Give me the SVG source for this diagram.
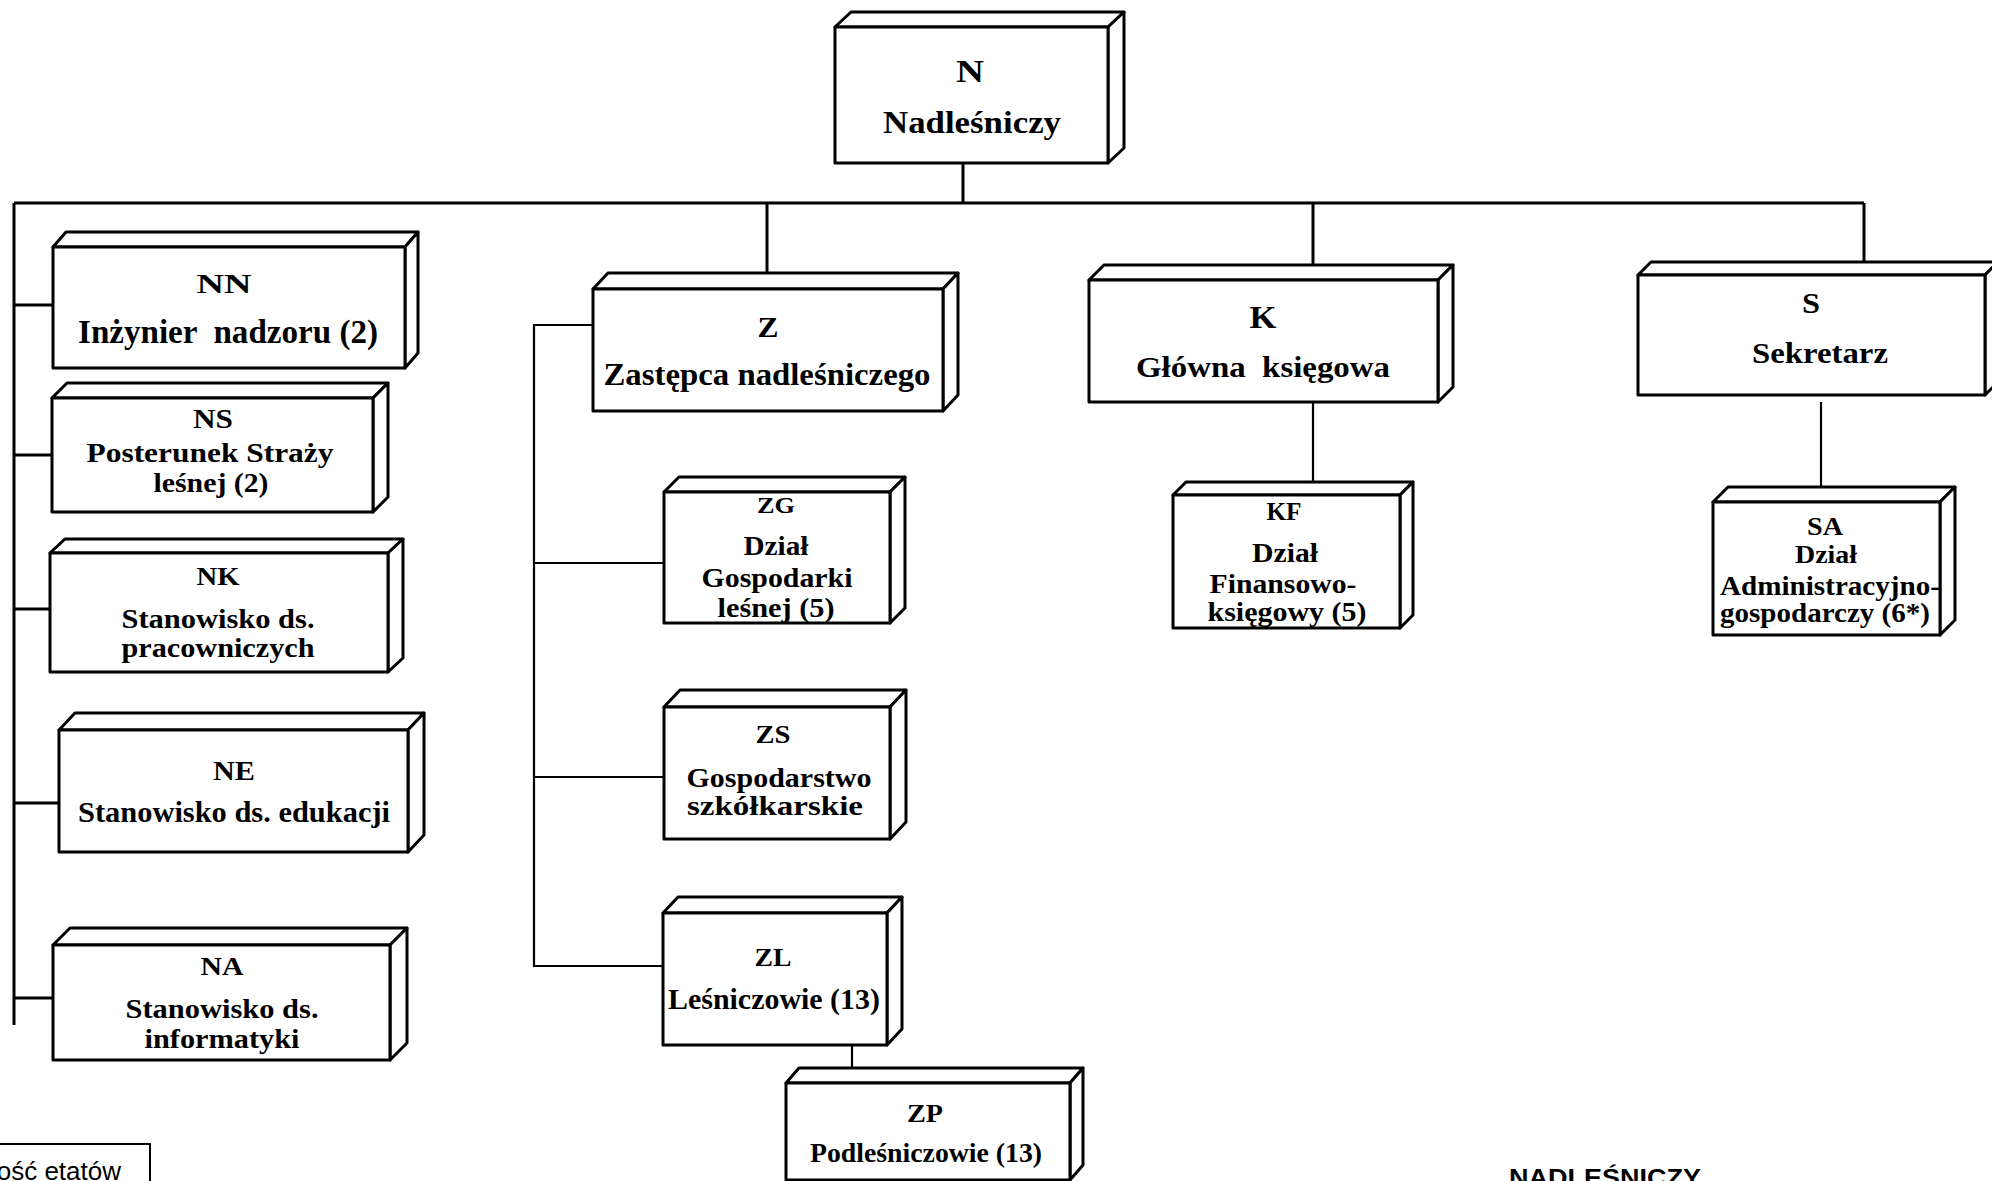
<svg xmlns="http://www.w3.org/2000/svg" width="1992" height="1181" viewBox="0 0 1992 1181">
<style>
.bx{fill:#fff;stroke:#000;stroke-width:3;stroke-linejoin:round}
.cn{stroke:#000;stroke-width:3;fill:none}
.cn2{stroke:#000;stroke-width:2.2;fill:none}
.t{font-family:"Liberation Serif","Times New Roman",serif;font-weight:bold;text-anchor:middle;fill:#000}
.leg{font-family:"Liberation Sans",Arial,sans-serif;fill:#000}
</style>
<rect width="1992" height="1181" fill="#fff"/>
<g id="connectors">
<path class="cn" d="M963 163V203M14 203H1864M14 203V1025"/>
<path class="cn" d="M14 305H53M14 455H52M14 609H50M14 803H59M14 998H53"/>
<path class="cn" d="M767 203V273M1313 203V265M1864 203V262"/>
<path class="cn2" d="M593 325H534V966H663M534 563H664M534 777H664"/>
<path class="cn2" d="M1313 402V482M1821 402V490M852 1045V1070"/>
</g>
<g id="node-N">
<path class="bx" d="M835 27L851 12H1124L1108 27Z"/><path class="bx" d="M1108 27L1124 12V148L1108 163Z"/><rect class="bx" x="835" y="27" width="273" height="136"/>
<text class="t" x="970" y="82" font-size="31" textLength="28" lengthAdjust="spacingAndGlyphs">N</text>
<text class="t" x="972" y="133" font-size="32" textLength="178" lengthAdjust="spacingAndGlyphs">Nadleśniczy</text>
</g>
<g id="node-NN">
<path class="bx" d="M53 247L66 232H418L405 247Z"/><path class="bx" d="M405 247L418 232V353L405 368Z"/><rect class="bx" x="53" y="247" width="352" height="121"/>
<text class="t" x="224" y="293" font-size="28" textLength="55" lengthAdjust="spacingAndGlyphs">NN</text>
<text class="t" x="228" y="343" font-size="33" textLength="300" lengthAdjust="spacingAndGlyphs" xml:space="preserve">Inżynier  nadzoru (2)</text>
</g>
<g id="node-NS">
<path class="bx" d="M52 398L67 383H388L373 398Z"/><path class="bx" d="M373 398L388 383V497L373 512Z"/><rect class="bx" x="52" y="398" width="321" height="114"/>
<text class="t" x="213" y="428" font-size="27" textLength="40" lengthAdjust="spacingAndGlyphs">NS</text>
<text class="t" x="210" y="462" font-size="28" textLength="247" lengthAdjust="spacingAndGlyphs">Posterunek Straży</text>
<text class="t" x="211" y="492" font-size="28" textLength="115" lengthAdjust="spacingAndGlyphs">leśnej (2)</text>
</g>
<g id="node-NK">
<path class="bx" d="M50 553L65 539H403L388 553Z"/><path class="bx" d="M388 553L403 539V658L388 672Z"/><rect class="bx" x="50" y="553" width="338" height="119"/>
<text class="t" x="218" y="585" font-size="26" textLength="43" lengthAdjust="spacingAndGlyphs">NK</text>
<text class="t" x="218" y="628" font-size="28" textLength="193" lengthAdjust="spacingAndGlyphs">Stanowisko ds.</text>
<text class="t" x="218" y="657" font-size="28" textLength="193" lengthAdjust="spacingAndGlyphs">pracowniczych</text>
</g>
<g id="node-NE">
<path class="bx" d="M59 730L75 713H424L408 730Z"/><path class="bx" d="M408 730L424 713V835L408 852Z"/><rect class="bx" x="59" y="730" width="349" height="122"/>
<text class="t" x="234" y="780" font-size="27" textLength="42" lengthAdjust="spacingAndGlyphs">NE</text>
<text class="t" x="234" y="822" font-size="30" textLength="312" lengthAdjust="spacingAndGlyphs">Stanowisko ds. edukacji</text>
</g>
<g id="node-NA">
<path class="bx" d="M53 945L70 928H407L390 945Z"/><path class="bx" d="M390 945L407 928V1043L390 1060Z"/><rect class="bx" x="53" y="945" width="337" height="115"/>
<text class="t" x="222" y="975" font-size="26" textLength="43" lengthAdjust="spacingAndGlyphs">NA</text>
<text class="t" x="222" y="1018" font-size="28" textLength="193" lengthAdjust="spacingAndGlyphs">Stanowisko ds.</text>
<text class="t" x="222" y="1048" font-size="28" textLength="155" lengthAdjust="spacingAndGlyphs">informatyki</text>
</g>
<g id="node-Z">
<path class="bx" d="M593 289L608 273H958L943 289Z"/><path class="bx" d="M943 289L958 273V395L943 411Z"/><rect class="bx" x="593" y="289" width="350" height="122"/>
<text class="t" x="768" y="337" font-size="30" textLength="21" lengthAdjust="spacingAndGlyphs">Z</text>
<text class="t" x="767" y="385" font-size="31" textLength="327" lengthAdjust="spacingAndGlyphs">Zastępca nadleśniczego</text>
</g>
<g id="node-ZG">
<path class="bx" d="M664 492L679 477H905L890 492Z"/><path class="bx" d="M890 492L905 477V608L890 623Z"/><rect class="bx" x="664" y="492" width="226" height="131"/>
<text class="t" x="776" y="513" font-size="24" textLength="38" lengthAdjust="spacingAndGlyphs">ZG</text>
<text class="t" x="776" y="555" font-size="27" textLength="65" lengthAdjust="spacingAndGlyphs">Dział</text>
<text class="t" x="777" y="587" font-size="27" textLength="151" lengthAdjust="spacingAndGlyphs">Gospodarki</text>
<text class="t" x="776" y="617" font-size="27" textLength="117" lengthAdjust="spacingAndGlyphs">leśnej (5)</text>
</g>
<g id="node-ZS">
<path class="bx" d="M664 707L680 690H906L890 707Z"/><path class="bx" d="M890 707L906 690V822L890 839Z"/><rect class="bx" x="664" y="707" width="226" height="132"/>
<text class="t" x="773" y="743" font-size="25" textLength="35" lengthAdjust="spacingAndGlyphs">ZS</text>
<text class="t" x="779" y="787" font-size="28" textLength="185" lengthAdjust="spacingAndGlyphs">Gospodarstwo</text>
<text class="t" x="775" y="815" font-size="28" textLength="176" lengthAdjust="spacingAndGlyphs">szkółkarskie</text>
</g>
<g id="node-ZL">
<path class="bx" d="M663 913L678 897H902L887 913Z"/><path class="bx" d="M887 913L902 897V1029L887 1045Z"/><rect class="bx" x="663" y="913" width="224" height="132"/>
<text class="t" x="773" y="966" font-size="25" textLength="37" lengthAdjust="spacingAndGlyphs">ZL</text>
<text class="t" x="774" y="1009" font-size="29" textLength="212" lengthAdjust="spacingAndGlyphs">Leśniczowie (13)</text>
</g>
<g id="node-ZP">
<path class="bx" d="M786 1083L799 1068H1083L1070 1083Z"/><path class="bx" d="M1070 1083L1083 1068V1165L1070 1180Z"/><rect class="bx" x="786" y="1083" width="284" height="97"/>
<text class="t" x="925" y="1122" font-size="25" textLength="36" lengthAdjust="spacingAndGlyphs">ZP</text>
<text class="t" x="926" y="1162" font-size="28" textLength="232" lengthAdjust="spacingAndGlyphs">Podleśniczowie (13)</text>
</g>
<g id="node-K">
<path class="bx" d="M1089 280L1104 265H1453L1438 280Z"/><path class="bx" d="M1438 280L1453 265V387L1438 402Z"/><rect class="bx" x="1089" y="280" width="349" height="122"/>
<text class="t" x="1263" y="328" font-size="32" textLength="27" lengthAdjust="spacingAndGlyphs">K</text>
<text class="t" x="1263" y="377" font-size="30" textLength="254" lengthAdjust="spacingAndGlyphs" xml:space="preserve">Główna  księgowa</text>
</g>
<g id="node-KF">
<path class="bx" d="M1173 495L1186 482H1413L1400 495Z"/><path class="bx" d="M1400 495L1413 482V615L1400 628Z"/><rect class="bx" x="1173" y="495" width="227" height="133"/>
<text class="t" x="1284" y="520" font-size="25" textLength="35" lengthAdjust="spacingAndGlyphs">KF</text>
<text class="t" x="1285" y="562" font-size="28" textLength="66" lengthAdjust="spacingAndGlyphs">Dział</text>
<text class="t" x="1283" y="593" font-size="28" textLength="147" lengthAdjust="spacingAndGlyphs">Finansowo-</text>
<text class="t" x="1287" y="621" font-size="28" textLength="159" lengthAdjust="spacingAndGlyphs">księgowy (5)</text>
</g>
<g id="node-S">
<path class="bx" d="M1638 275L1651 262H1998L1985 275Z"/><path class="bx" d="M1985 275L1998 262V382L1985 395Z"/><rect class="bx" x="1638" y="275" width="347" height="120"/>
<text class="t" x="1811" y="313" font-size="30" textLength="18" lengthAdjust="spacingAndGlyphs">S</text>
<text class="t" x="1820" y="363" font-size="30" textLength="136" lengthAdjust="spacingAndGlyphs">Sekretarz</text>
</g>
<g id="node-SA">
<path class="bx" d="M1713 502L1728 487H1955L1940 502Z"/><path class="bx" d="M1940 502L1955 487V620L1940 635Z"/><rect class="bx" x="1713" y="502" width="227" height="133"/>
<text class="t" x="1825" y="535" font-size="26" textLength="36" lengthAdjust="spacingAndGlyphs">SA</text>
<text class="t" x="1826" y="563" font-size="26" textLength="62" lengthAdjust="spacingAndGlyphs">Dział</text>
<text class="t" x="1830" y="595" font-size="27" textLength="220" lengthAdjust="spacingAndGlyphs">Administracyjno-</text>
<text class="t" x="1825" y="622" font-size="27" textLength="210" lengthAdjust="spacingAndGlyphs">gospodarczy (6*)</text>
</g>
<g id="legend">
<path d="M-5 1144H150V1190" fill="none" stroke="#000" stroke-width="2"/>
<text class="leg" x="121" y="1180" font-size="26" text-anchor="end">ość etatów</text>
</g>
<text class="leg" x="1509" y="1186" font-size="24" font-weight="bold" textLength="192" lengthAdjust="spacingAndGlyphs">NADLEŚNICZY</text>
</svg>
